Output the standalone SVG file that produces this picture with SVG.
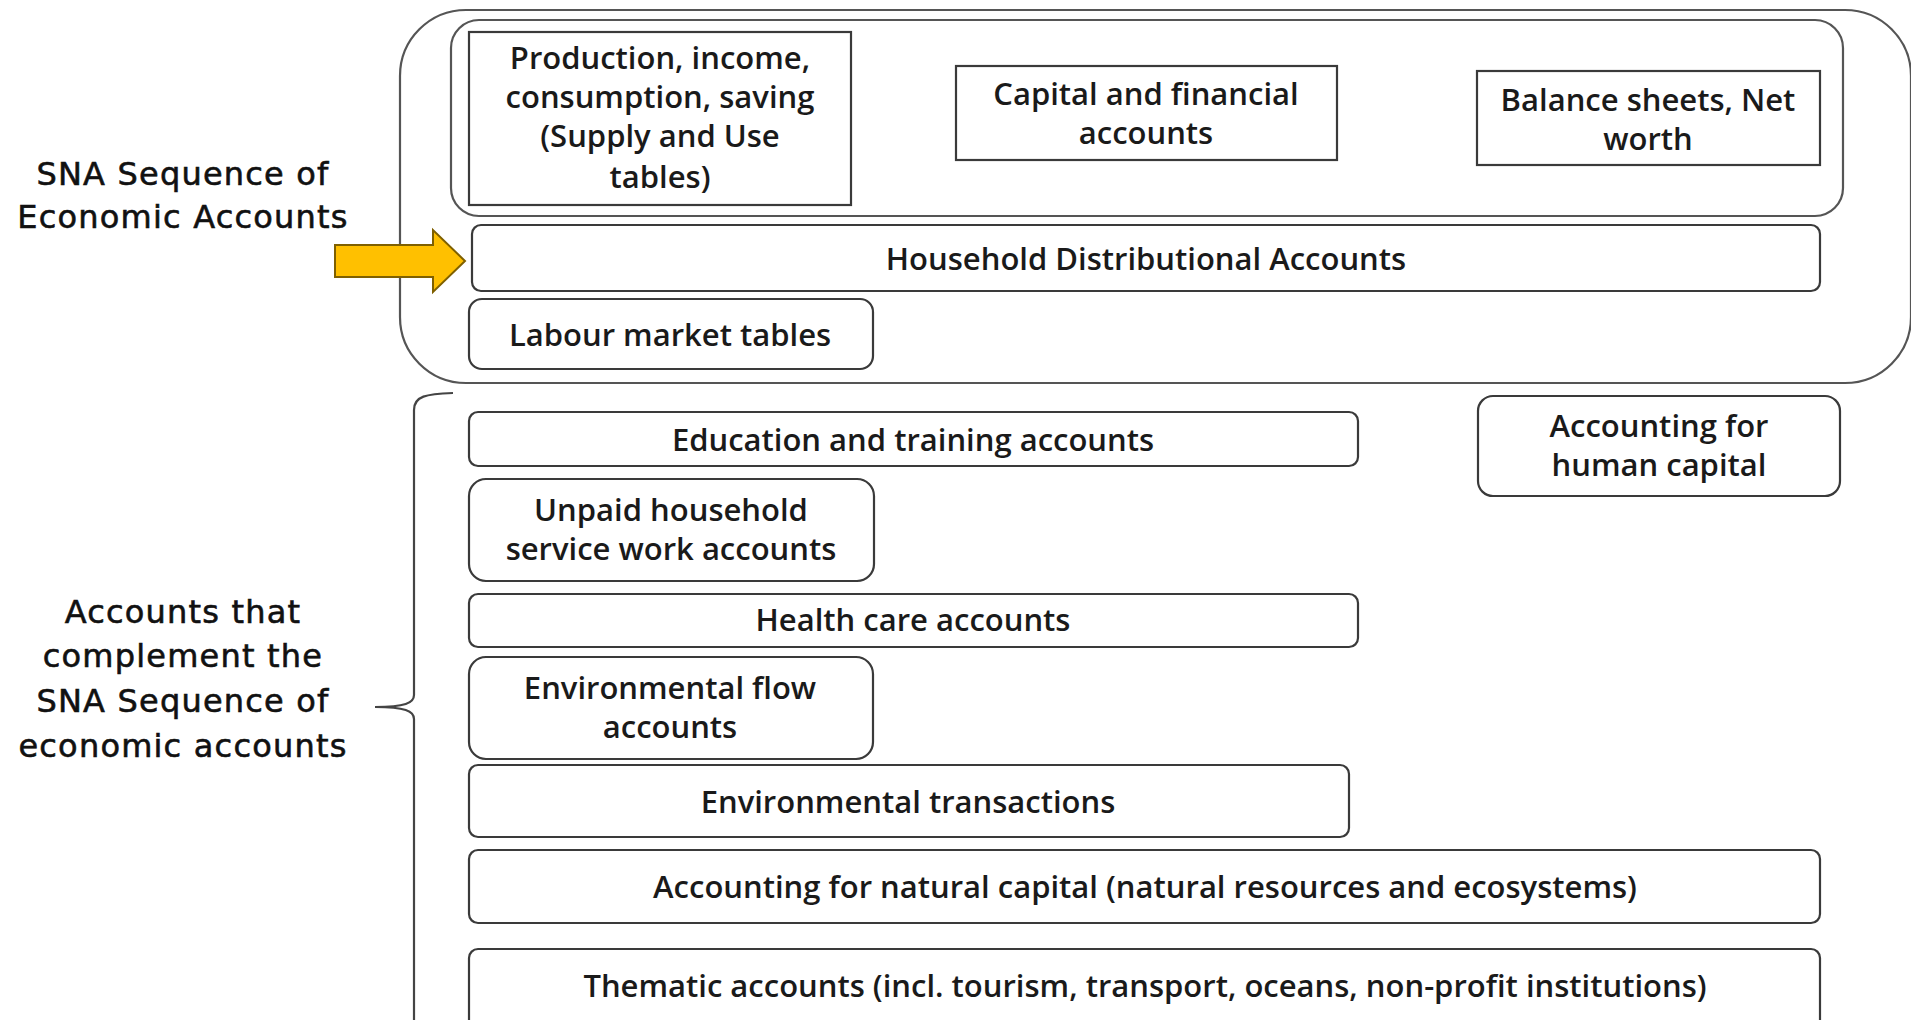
<svg xmlns="http://www.w3.org/2000/svg" width="1911" height="1020" viewBox="0 0 1911 1020">
<style>
.box{fill:#fff;stroke:#3a3a3a;stroke-width:2.2}
.cont{fill:none;stroke:#555;stroke-width:2.2}
.t{font-family:"Open Sans","Noto Sans",sans-serif;font-size:31px;font-weight:600;fill:#1a1a1a;text-anchor:middle;dominant-baseline:central}
.lab{font-family:"DejaVu Sans",sans-serif;font-size:32px;letter-spacing:1.2px;fill:#111;stroke:#111;stroke-width:0.6;text-anchor:middle;dominant-baseline:central}
</style>
<rect width="1911" height="1020" fill="#fff"/>
<g id="sna-container">
<rect class="cont" x="400" y="10" width="1511" height="373" rx="66"/>
<rect class="cont" x="451" y="20" width="1392" height="196" rx="28"/>
</g>
<g id="label-sna">
<text class="lab" x="183" y="174">SNA Sequence of</text>
<text class="lab" x="183" y="217">Economic Accounts</text>
</g>
<g id="label-complement">
<text class="lab" x="183" y="612">Accounts that</text>
<text class="lab" x="183" y="656">complement the</text>
<text class="lab" x="183" y="701">SNA Sequence of</text>
<text class="lab" x="183" y="746">economic accounts</text>
</g>
<g id="production">
<rect class="box" x="469" y="32" width="382" height="173"/>
<text class="t" x="660" y="57">Production, income,</text>
<text class="t" x="660" y="96">consumption, saving</text>
<text class="t" x="660" y="135">(Supply and Use</text>
<text class="t" x="660" y="176">tables)</text>
</g>
<g id="capital">
<rect class="box" x="956" y="66" width="381" height="94"/>
<text class="t" x="1146" y="93">Capital and financial</text>
<text class="t" x="1146" y="132">accounts</text>
</g>
<g id="balance">
<rect class="box" x="1477" y="71" width="343" height="94"/>
<text class="t" x="1648" y="99">Balance sheets, Net</text>
<text class="t" x="1648" y="138">worth</text>
</g>
<g id="household">
<rect class="box" x="472" y="225" width="1348" height="66" rx="9"/>
<text class="t" x="1146" y="258">Household Distributional Accounts</text>
</g>
<g id="labour">
<rect class="box" x="469" y="299" width="404" height="70" rx="13"/>
<text class="t" x="670" y="334">Labour market tables</text>
</g>
<g id="education">
<rect class="box" x="469" y="412" width="889" height="54" rx="9"/>
<text class="t" x="913" y="439">Education and training accounts</text>
</g>
<g id="human-capital">
<rect class="box" x="1478" y="396" width="362" height="100" rx="15"/>
<text class="t" x="1659" y="425">Accounting for</text>
<text class="t" x="1659" y="464">human capital</text>
</g>
<g id="unpaid">
<rect class="box" x="469" y="479" width="405" height="102" rx="17"/>
<text class="t" x="671" y="509">Unpaid household</text>
<text class="t" x="671" y="548">service work accounts</text>
</g>
<g id="health">
<rect class="box" x="469" y="594" width="889" height="53" rx="9"/>
<text class="t" x="913" y="619">Health care accounts</text>
</g>
<g id="env-flow">
<rect class="box" x="469" y="657" width="404" height="102" rx="17"/>
<text class="t" x="670" y="687">Environmental flow</text>
<text class="t" x="670" y="726">accounts</text>
</g>
<g id="env-transactions">
<rect class="box" x="469" y="765" width="880" height="72" rx="9"/>
<text class="t" x="908" y="801">Environmental transactions</text>
</g>
<g id="natural-capital">
<rect class="box" x="469" y="850" width="1351" height="73" rx="9"/>
<text class="t" x="1145" y="886">Accounting for natural capital (natural resources and ecosystems)</text>
</g>
<g id="thematic">
<rect class="box" x="469" y="949" width="1351" height="90" rx="9"/>
<text class="t" x="1145" y="985">Thematic accounts (incl. tourism, transport, oceans, non-profit institutions)</text>
</g>
<g id="connectors">
<polygon points="335,245 433,245 433,230 465,261 433,292 433,277 335,277" fill="#FFC000" stroke="#7F6000" stroke-width="2" stroke-linejoin="miter"/>
<path d="M453 393 C426 394 414 396 414 410 L414 695 C414 703 405 707 375 707 C405 707 414 711 414 719 L414 1020" fill="none" stroke="#444" stroke-width="2.2"/>
</g>
</svg>
